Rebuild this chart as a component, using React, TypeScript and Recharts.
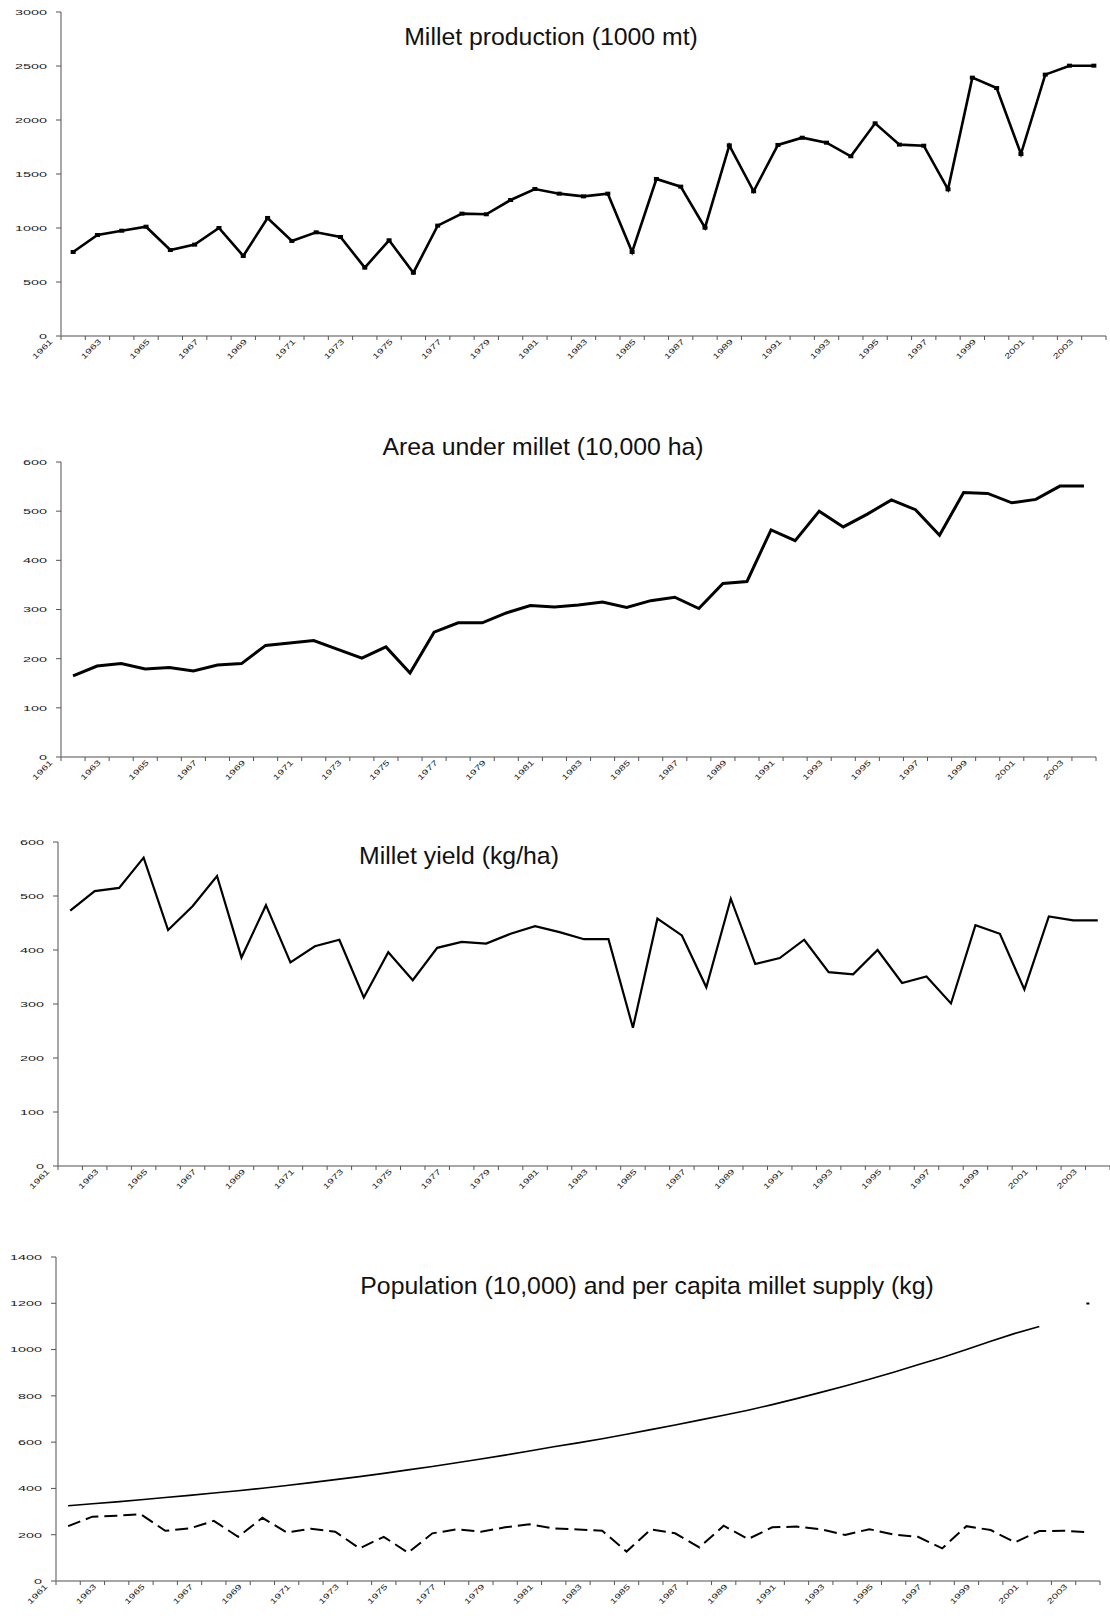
import React from 'react'
import { LineChart, Line, XAxis, YAxis } from 'recharts'

const years = [
  1961, 1962, 1963, 1964, 1965, 1966, 1967, 1968, 1969, 1970,
  1971, 1972, 1973, 1974, 1975, 1976, 1977, 1978, 1979, 1980,
  1981, 1982, 1983, 1984, 1985, 1986, 1987, 1988, 1989, 1990,
  1991, 1992, 1993, 1994, 1995, 1996, 1997, 1998, 1999, 2000,
  2001, 2002, 2003,
]

// 1000 mt
const production = [
  778, 935, 975, 1012, 796, 846, 1000, 741, 1093, 880,
  960, 917, 633, 886, 586, 1022, 1133, 1127, 1259, 1361,
  1318, 1293, 1318, 778, 1454, 1383, 1003, 1765, 1340, 1769,
  1836, 1790, 1664, 1969, 1772, 1762, 1358, 2392, 2296, 1685,
  2420, 2503, 2503,
]

// 10,000 ha
const area = [
  165, 185, 190, 179, 182, 175, 187, 190, 227, 232,
  237, 219, 201, 224, 171, 254, 273, 273, 293, 308,
  305, 309, 315, 304, 318, 325, 302, 353, 357, 462,
  440, 500, 468, 494, 523, 503, 451, 538, 536, 517,
  524, 551, 551,
]

// kg/ha
const yieldKgHa = [
  473, 509, 515, 571, 437, 481, 537, 386, 483, 377,
  407, 419, 312, 396, 344, 404, 415, 412, 430, 444,
  433, 420, 420, 256, 458, 427, 331, 495, 374, 385,
  419, 359, 355, 400, 339, 351, 301, 446, 430, 327,
  462, 455, 455,
]

// 10,000 people (2002 missing)
const population: (number | null)[] = [
  325, 334, 342, 351, 361, 370, 380, 390, 401, 413,
  425, 438, 451, 465, 480, 495, 511, 527, 544, 562,
  580, 597, 615, 634, 654, 674, 695, 716, 738, 762,
  788, 815, 843, 872, 902, 934, 966, 1000, 1036, 1070,
  1100, null, 1199,
]

// kg per person
const perCapita = [
  237, 278, 282, 288, 217, 227, 260, 191, 273, 210,
  226, 213, 141, 191, 122, 206, 223, 213, 232, 245,
  227, 223, 217, 127, 223, 206, 145, 239, 181, 232,
  235, 224, 199, 224, 201, 191, 141, 237, 220, 167,
  216, 217, 211,
]

const rows = years.map((year, i) => ({
  year,
  production: production[i],
  area: area[i],
  yield: yieldKgHa[i],
  population: population[i],
  perCapita: perCapita[i],
}))

const firstYear = years[0]
const lastYear = years[years.length - 1]
const boundaries = [...years.map((y) => y - 0.5), lastYear + 0.5]

const FONT = '"Liberation Sans", Arial, Helvetica, sans-serif'
const AXIS = '#8a8a8a'

const XTick = (props: any) => {
  const { x, y, payload } = props
  const year = payload.value + 0.5
  if ((year - firstYear) % 2 !== 0 || year > lastYear) return <g />
  return (
    <g transform={`translate(${x - 8},${y})`}>
      <text
        textAnchor="end"
        fontSize={7.5}
        fill="#222"
        fontFamily={FONT}
        transform="rotate(-45) scale(1.5,1)"
      >
        {year}
      </text>
    </g>
  )
}

const YTick = (props: any) => {
  const { x, y, payload } = props
  return (
    <g transform={`translate(${x},${y})`}>
      <text textAnchor="end" dy="0.36em" fontSize={8} fill="#222" fontFamily={FONT} transform="scale(1.8,1)">
        {payload.value}
      </text>
    </g>
  )
}

const ProductionDot = (p: any) => {
  if (p.cx == null || p.cy == null) return <g key={`pd${p.index}`} />
  return <rect key={`pd${p.index}`} x={p.cx - 2.5} y={p.cy - 2} width={5} height={4} fill="#000" />
}

const PopulationDot = (p: any) => {
  const i = p.index
  const alone = population[i] != null && population[i - 1] == null && population[i + 1] == null
  if (!alone || p.cx == null) return <g key={`pp${i}`} />
  return <line key={`pp${i}`} x1={p.cx - 1.5} x2={p.cx + 1.5} y1={p.cy} y2={p.cy} stroke="#000" strokeWidth={2} />
}

interface PanelProps {
  top: number
  height: number
  marginTop: number
  marginRight: number
  yWidth: number
  yTicks: number[]
  title: string
  titleX: number
  titleY: number
  children: React.ReactNode
}

const Panel = ({ top, height, marginTop, marginRight, yWidth, yTicks, title, titleX, titleY, children }: PanelProps) => (
  <div style={{ position: 'absolute', left: 0, top, width: 1110, height }}>
    <LineChart width={1110} height={height} data={rows} margin={{ top: marginTop, right: marginRight, left: 0, bottom: 0 }}>
      <XAxis
        dataKey="year"
        type="number"
        domain={[firstYear - 0.5, lastYear + 0.5]}
        ticks={boundaries}
        interval={0}
        height={30}
        tick={<XTick />}
        tickSize={4}
        axisLine={{ stroke: AXIS, strokeWidth: 1.5 }}
        tickLine={{ stroke: '#555' }}
      />
      <YAxis
        type="number"
        domain={[yTicks[0], yTicks[yTicks.length - 1]]}
        ticks={yTicks}
        interval={0}
        width={yWidth}
        tick={<YTick />}
        tickSize={5}
        tickMargin={9}
        axisLine={{ stroke: AXIS, strokeWidth: 1.5 }}
        tickLine={{ stroke: '#555' }}
      />
      {children}
    </LineChart>
    <div
      style={{
        position: 'absolute',
        left: titleX - 400,
        width: 800,
        top: titleY - top - 12,
        textAlign: 'center',
        fontFamily: FONT,
        fontSize: 24.8,
        lineHeight: '24px',
        color: '#111',
        whiteSpace: 'nowrap',
      }}
    >
      {title}
    </div>
  </div>
)

export default function App() {
  return (
    <div style={{ position: 'absolute', left: 0, top: 0, width: 1110, height: 1616, background: '#fff' }}>
      <Panel
        top={0}
        height={366}
        marginTop={12}
        marginRight={4}
        yWidth={61}
        yTicks={[0, 500, 1000, 1500, 2000, 2500, 3000]}
        title="Millet production (1000 mt)"
        titleX={551}
        titleY={37}
      >
        <Line
          dataKey="production"
          type="linear"
          stroke="#000"
          strokeWidth={2.6}
          dot={ProductionDot}
          activeDot={false}
          isAnimationActive={false}
        />
      </Panel>
      <Panel
        top={420}
        height={367}
        marginTop={42}
        marginRight={14}
        yWidth={61}
        yTicks={[0, 100, 200, 300, 400, 500, 600]}
        title="Area under millet (10,000 ha)"
        titleX={543}
        titleY={447}
      >
        <Line
          dataKey="area"
          type="linear"
          stroke="#000"
          strokeWidth={3}
          dot={false}
          activeDot={false}
          isAnimationActive={false}
        />
      </Panel>
      <Panel
        top={830}
        height={366}
        marginTop={12}
        marginRight={0}
        yWidth={58}
        yTicks={[0, 100, 200, 300, 400, 500, 600]}
        title="Millet yield (kg/ha)"
        titleX={459}
        titleY={856}
      >
        <Line
          dataKey="yield"
          type="linear"
          stroke="#000"
          strokeWidth={2.2}
          dot={false}
          activeDot={false}
          isAnimationActive={false}
        />
      </Panel>
      <Panel
        top={1240}
        height={371}
        marginTop={17}
        marginRight={10}
        yWidth={56}
        yTicks={[0, 200, 400, 600, 800, 1000, 1200, 1400]}
        title="Population (10,000) and per capita millet supply (kg)"
        titleX={647}
        titleY={1286}
      >
        <Line
          dataKey="population"
          type="linear"
          stroke="#000"
          strokeWidth={1.6}
          dot={PopulationDot}
          activeDot={false}
          isAnimationActive={false}
        />
        <Line
          dataKey="perCapita"
          type="linear"
          stroke="#000"
          strokeWidth={2}
          strokeDasharray="13 6"
          dot={false}
          activeDot={false}
          isAnimationActive={false}
        />
      </Panel>
    </div>
  )
}
